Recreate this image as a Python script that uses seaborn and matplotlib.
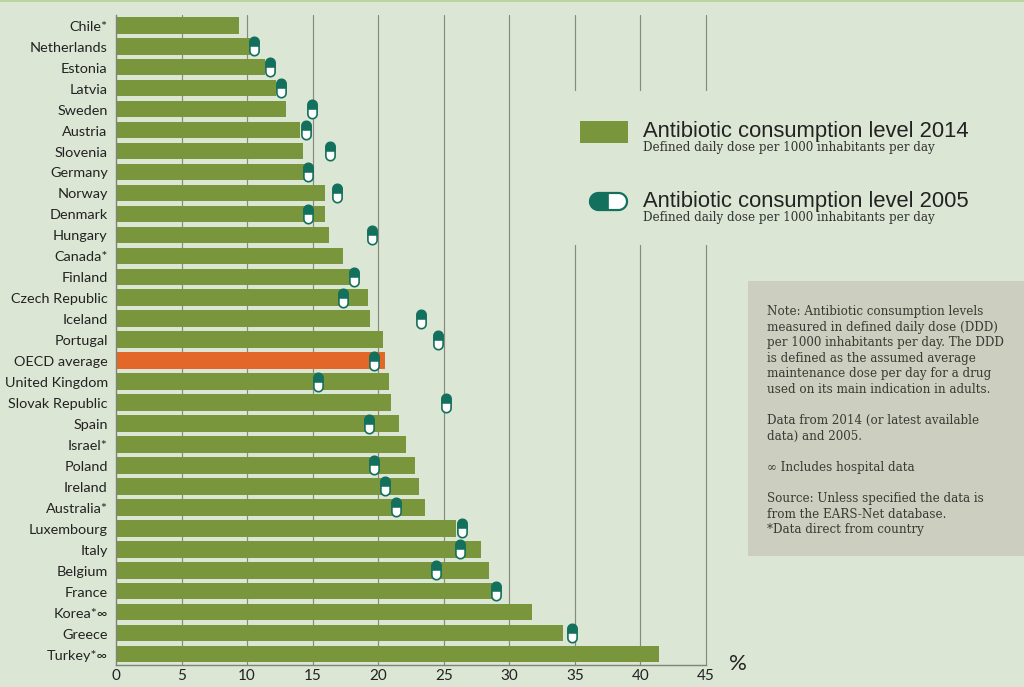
import numpy as np
import pandas as pd
import seaborn as sns
import matplotlib.pyplot as plt
from matplotlib.path import Path
from matplotlib.patches import Rectangle
from matplotlib.transforms import ScaledTranslation

countries = ['Chile*', 'Netherlands', 'Estonia', 'Latvia', 'Sweden', 'Austria', 'Slovenia', 'Germany',
             'Norway', 'Denmark', 'Hungary', 'Canada*', 'Finland', 'Czech Republic', 'Iceland', 'Portugal',
             'OECD average', 'United Kingdom', 'Slovak Republic', 'Spain', 'Israel*', 'Poland', 'Ireland',
             'Australia*', 'Luxembourg', 'Italy', 'Belgium', 'France', 'Korea*∞', 'Greece', 'Turkey*∞']
level_2014 = [9.4, 10.2, 11.4, 12.2, 13.0, 14.0, 14.3, 14.4, 15.95, 15.95, 16.25, 17.3, 17.9, 19.2, 19.35, 20.4,
              20.5, 20.8, 20.95, 21.6, 22.1, 22.8, 23.1, 23.55, 25.9, 27.85, 28.45, 29.0, 31.7, 34.1, 41.4]
level_2005 = [np.nan, 10.55, 11.75, 12.6, 14.95, 14.5, 16.3, 14.65, 16.85, 14.65, 19.5, np.nan, 18.15, 17.3, 23.25,
              24.55, 19.65, 15.4, 25.15, 19.3, np.nan, 19.65, 20.5, 21.35, 26.4, 26.25, 24.4, 29.0, np.nan, 34.75,
              np.nan]
x_ticks = [0, 5, 10, 15, 20, 25, 30, 35, 40, 45]

BG = '#dce6d4'
GREEN = '#7a963c'
ORANGE = '#e4672a'
TEAL = '#12705c'
NOTE_BG = '#cccfbf'
W, H = 1024, 687

note_text = ('Note: Antibiotic consumption levels\n'
             'measured in defined daily dose (DDD)\n'
             'per 1000 inhabitants per day. The DDD\n'
             'is defined as the assumed average\n'
             'maintenance dose per day for a drug\n'
             'used on its main indication in adults.\n'
             '\n'
             'Data from 2014 (or latest available\n'
             'data) and 2005.\n'
             '\n'
             '∞ Includes hospital data\n'
             '\n'
             'Source: Unless specified the data is\n'
             'from the EARS-Net database.\n'
             '*Data direct from country')


def pill_path(half_len, half_wid, part='all'):
    # vertical capsule, 'top' gives only the upper half
    t = np.linspace(0, np.pi, 20)
    top_x = half_wid * np.cos(t)
    top_y = half_len - half_wid + half_wid * np.sin(t)
    if part == 'top':
        xs = np.r_[top_x, -half_wid, half_wid]
        ys = np.r_[top_y, 0, 0]
    else:
        xs = np.r_[top_x, -top_x]
        ys = np.r_[top_y, -top_y]
    verts = np.c_[xs, ys]
    return Path(np.vstack([verts, verts[0]]), closed=True)


def rotated(path):
    # capsule lying down, filled end on the left
    return Path(np.c_[-path.vertices[:, 1], path.vertices[:, 0]], closed=True)


df = pd.DataFrame({'country': countries, 'level_2014': level_2014, 'level_2005': level_2005})

sns.set_theme(style='white')
plt.rcParams['font.family'] = ['Lato', 'DejaVu Sans']

fig = plt.figure(figsize=(W / 100, H / 100), dpi=100, facecolor=BG)
ax = fig.add_axes([116 / W, 1 - 665 / H, (706 - 116) / W, (665 - 15) / H], facecolor='none')

for x in x_ticks[1:]:
    ax.axvline(x, color='#858c7f', lw=0.85, zorder=0, clip_on=False)

colors = [ORANGE if c == 'OECD average' else GREEN for c in countries]
sns.barplot(data=df, y='country', x='level_2014', hue='country', palette=colors, legend=False,
            width=0.79, saturation=1, linewidth=0, edgecolor='none', ax=ax, zorder=2)

full_pill = pill_path(1, 0.5)
top_pill = pill_path(1, 0.5, 'top')
pts = df.dropna(subset=['level_2005'])
sns.scatterplot(data=pts, x='level_2005', y='country', marker=full_pill, s=175, color='white',
                edgecolor=TEAL, linewidth=1.2, ax=ax, zorder=3)
sns.scatterplot(data=pts, x='level_2005', y='country', marker=top_pill, s=175, color=TEAL,
                edgecolor=TEAL, linewidth=0.4, ax=ax, zorder=4)

ax.set_xlim(0, 45)
ax.set_ylim(len(countries) - 0.5 + 0.02, -0.49)
ax.set_xlabel('')
ax.set_ylabel('')
ax.set_xticks(x_ticks)
ax.tick_params(axis='x', length=0, pad=3, labelsize=11, labelcolor='#222222')
ax.tick_params(axis='y', length=0, pad=6, labelsize=10.4, labelcolor='#222222')
shift = ScaledTranslation(0, -0.5 / 100, fig.dpi_scale_trans)
for label in ax.get_yticklabels():
    label.set_transform(label.get_transform() + shift)
sns.despine(ax=ax, top=True, right=True)
for side in ['left', 'bottom']:
    ax.spines[side].set_color('#7d8577')
    ax.spines[side].set_linewidth(1)

# overlay in pixels for the legend, the note box and other annotations
over = fig.add_axes([0, 0, 1, 1], facecolor='none')
over.set_xlim(0, W)
over.set_ylim(H, 0)
over.axis('off')

over.add_patch(Rectangle((0, 0), W, 1.5, color='#b9d69c', lw=0))
over.add_patch(Rectangle((562, 91), 462, 154, color=BG, lw=0))
over.add_patch(Rectangle((580, 121), 48, 22, color=GREEN, lw=0))
over.add_patch(Rectangle((748, 281), 276, 275, color=NOTE_BG, lw=0))

leg_full = rotated(pill_path(1, 0.46))
leg_half = rotated(pill_path(1, 0.46, 'top'))
over.scatter([608], [200.5], marker=leg_full, s=710, color='white', edgecolor=TEAL, linewidth=1.6)
over.scatter([608], [200.5], marker=leg_half, s=710, color=TEAL, edgecolor=TEAL, linewidth=0.5)

over.text(643, 132, 'Antibiotic consumption level 2014', family='Liberation Sans', fontsize=15.8,
          color='#222222', va='center')
over.text(643, 201, 'Antibiotic consumption level 2005', family='Liberation Sans', fontsize=15.8,
          color='#222222', va='center')
over.text(643, 148, 'Defined daily dose per 1000 inhabitants per day', family='DejaVu Serif', fontsize=8.6,
          color='#333333', va='center')
over.text(643, 218, 'Defined daily dose per 1000 inhabitants per day', family='DejaVu Serif', fontsize=8.6,
          color='#333333', va='center')
over.text(767, 305, note_text, family='DejaVu Serif', fontsize=8.6, color='#3a3a34',
          va='top', linespacing=1.26)
over.text(729, 664, '%', fontsize=16, color='#222222', va='center')

fig.savefig('out.png', dpi=100, facecolor=BG)
